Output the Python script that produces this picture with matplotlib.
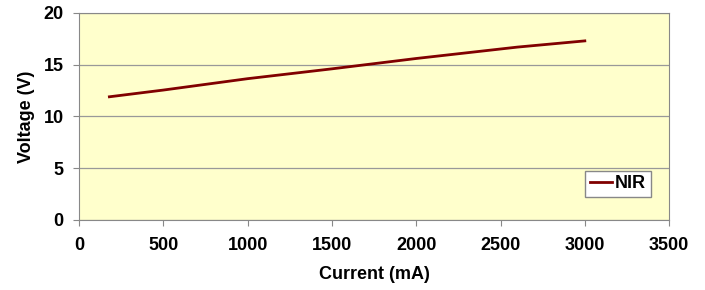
import matplotlib.pyplot as plt

plt.rcParams['font.family'] = ['Liberation Sans', 'DejaVu Sans']

current = [180, 500, 1000, 1500, 1700, 2000, 2600, 3000]
voltage = [11.9, 12.55, 13.65, 14.6, 15.0, 15.6, 16.7, 17.3]

fig = plt.figure(figsize=(7.05, 2.9), dpi=100)
ax = fig.add_axes([0.1121, 0.2414, 0.837, 0.714])
ax.set_facecolor('#FFFFCC')

ax.plot(current, voltage, color='#800000', linewidth=2, label='NIR')

ax.set_xlim(0, 3500)
ax.set_ylim(0, 20)
ax.set_xticks(range(0, 3501, 500))
ax.set_yticks(range(0, 21, 5))
ax.yaxis.grid(True, color='#999999', linewidth=0.9)
ax.set_axisbelow(True)
for s in ax.spines.values():
    s.set_color('#888888')
ax.tick_params(colors='#888888', labelcolor='black', labelsize=13, length=4)
ax.tick_params(axis='x', pad=8)
ax.tick_params(axis='y', pad=7)
for lab in ax.get_xticklabels() + ax.get_yticklabels():
    lab.set_fontweight('bold')

ax.set_xlabel('Current (mA)', fontsize=13, fontweight='bold', labelpad=9)
ax.set_ylabel('Voltage (V)', fontsize=13, fontweight='bold', labelpad=6)

leg = ax.legend(loc='lower right', bbox_to_anchor=(0.969, 0.111), fancybox=False,
                prop={'weight': 'bold', 'size': 13}, handlelength=1.2,
                handletextpad=0.2, borderpad=0.25, borderaxespad=0, framealpha=1)
leg.get_frame().set_edgecolor('#888888')
leg.get_frame().set_facecolor('white')

plt.savefig('out.png')
